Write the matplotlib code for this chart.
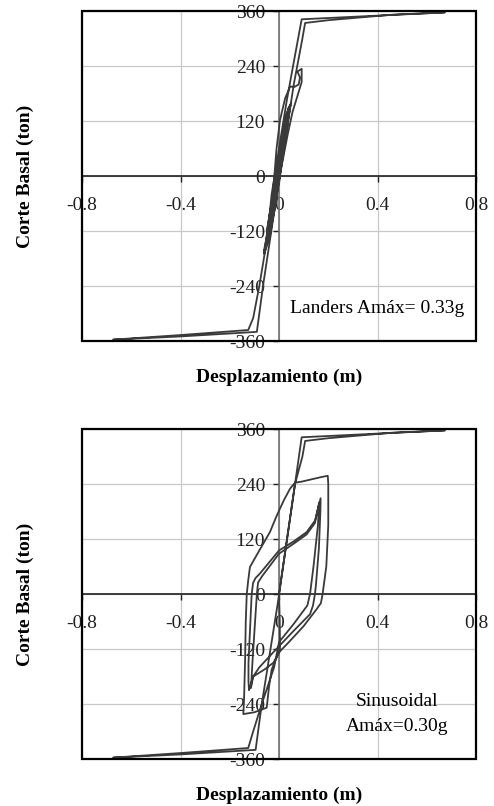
import numpy as np
import matplotlib.pyplot as plt
from matplotlib.patches import Rectangle

plt.rcParams['font.family'] = ['Liberation Serif', 'DejaVu Serif']

# Landers record: displacement (m) and base shear (ton)
landers_d = [0.000, 0.010, 0.020, 0.012, -0.005, -0.020, -0.012, 0.005, 0.028, 0.020,
             0.000, -0.025, -0.035, -0.025, -0.005, 0.015, 0.035, 0.025, 0.005, -0.020,
             -0.045, -0.035, -0.010, 0.020, 0.040, 0.030, 0.010, -0.025, -0.055, -0.040,
             -0.015, 0.015, 0.045, 0.035, 0.015, -0.015, -0.040, -0.060, -0.048, -0.025,
             0.000, 0.030, 0.050, 0.040, 0.020, -0.010, -0.030, -0.050, -0.040, -0.025,
             -0.010, 0.004, 0.025, 0.045, 0.065, 0.080, 0.085, 0.075, 0.092, 0.092,
             0.075, 0.055, 0.035, 0.010, -0.020, -0.050, -0.062, -0.045, -0.030, 0.000,
             0.030, 0.057, 0.092, 0.400, 0.674, 0.460, 0.200, 0.106, 0.095, 0.060,
             0.020, -0.020, -0.065, -0.090, -0.400, -0.674, -0.400, -0.125, -0.105, -0.080,
             -0.040, -0.010, 0.010, 0.000, -0.020, 0.000]
landers_v = [0, 40, 75, 60, 0, -55, -40, 20, 100, 85,
             20, -70, -105, -90, -20, 60, 130, 115, 50, -40,
             -130, -115, -40, 60, 150, 135, 70, -50, -155, -140,
             -60, 40, 150, 140, 90, -10, -90, -170, -150, -70,
             30, 120, 160, 150, 100, 0, -60, -120, -110, -40,
             60, 122, 170, 195, 195, 200, 215, 228, 234, 205,
             175, 140, 90, 20, -80, -150, -165, -120, -40, 60,
             160, 240, 342, 350, 357, 352, 340, 334, 300, 200,
             60, -80, -240, -340, -350, -357, -347, -336, -310, -240,
             -110, 0, 60, 20, -40, 0]

# Sinusoidal record
sinus_d = [0.000, 0.003, 0.004, -0.030, -0.040, -0.050, -0.100, -0.145, -0.142, -0.138,
           -0.135, -0.131, -0.125, -0.118, -0.080, -0.037, -0.010, 0.020, 0.045, 0.065,
           0.090, 0.130, 0.170, 0.198, 0.200, 0.200, 0.192, 0.177, 0.170, 0.150,
           0.100, 0.040, 0.004, -0.023, -0.060, -0.105, -0.122, -0.124, -0.124, -0.111,
           -0.105, -0.095, -0.077, 0.000, 0.060, 0.112, 0.146, 0.169, 0.168, 0.162,
           0.150, 0.146, 0.138, 0.126, 0.060, -0.023, -0.080, -0.105, -0.114, -0.112,
           -0.108, -0.090, -0.085, -0.070, 0.000, 0.060, 0.112, 0.146, 0.163, 0.158,
           0.140, 0.126, 0.115, 0.060, 0.000, -0.020, -0.070, -0.095, -0.400, -0.674,
           -0.400, -0.125, -0.105, -0.070, -0.005, 0.065, 0.092, 0.400, 0.674, 0.460,
           0.200, 0.106, 0.095, 0.065, 0.000]
sinus_v = [0, -60, -120, -165, -200, -248, -258, -262, -230, -150,
           -60, 0, 30, 59, 95, 135, 170, 205, 230, 243,
           245, 250, 255, 258, 240, 150, 60, 0, -20, -35,
           -70, -105, -125, -150, -165, -180, -210, -190, -150, 0,
           25, 35, 45, 95, 115, 135, 160, 209, 180, 100,
           20, 0, -25, -44, -80, -127, -160, -180, -205, -190,
           -150, 0, 25, 38, 88, 110, 130, 155, 200, 150,
           60, 0, -25, -65, -105, -160, -240, -340, -350, -357,
           -347, -336, -300, -240, -20, 240, 342, 350, 357, 352,
           340, 334, 300, 240, 0]

x_ticks = [-0.8, -0.4, 0, 0.4, 0.8]
x_labels = ['-0.8', '-0.4', '0', '0.4', '0.8']
y_ticks = [-360, -240, -120, 0, 120, 240, 360]
y_labels = [str(v) for v in y_ticks]

fig = plt.figure(figsize=(4.94, 8.06), dpi=100)
ax1 = fig.add_axes([0.166, 0.5769, 0.7976, 0.4094])
ax2 = fig.add_axes([0.166, 0.0583, 0.7976, 0.4094])


def style_axes(ax):
    ax.set_xlim(-0.8, 0.8)
    ax.set_ylim(-360, 360)
    ax.set_xticks(x_ticks)
    ax.set_xticklabels(x_labels)
    ax.set_yticks(y_ticks)
    ax.set_yticklabels(y_labels)
    ax.grid(True, color='#c8c8c8', lw=0.9)
    ax.set_axisbelow(True)
    ax.spines['left'].set_position(('data', 0))
    ax.spines['bottom'].set_position(('data', 0))
    ax.spines['left'].set_color('#707070')
    ax.spines['bottom'].set_color('#202020')
    ax.spines['left'].set_linewidth(1.2)
    ax.spines['bottom'].set_linewidth(1.2)
    ax.spines['top'].set_visible(False)
    ax.spines['right'].set_visible(False)
    ax.add_patch(Rectangle((0, 0), 1, 1, transform=ax.transAxes, fill=False,
                           ec='black', lw=1.6, clip_on=False, zorder=5))
    ax.tick_params(axis='x', direction='out', length=4, width=1, pad=11,
                   labelsize=14, colors='#202020')
    ax.tick_params(axis='y', direction='out', length=4, width=1, pad=6,
                   labelsize=14, colors='#202020')
    ax.text(0.5, -0.11, 'Desplazamiento (m)', transform=ax.transAxes,
            ha='center', va='center', fontsize=14, fontweight='bold')
    ax.text(-0.145, 0.5, 'Corte Basal (ton)', transform=ax.transAxes,
            ha='center', va='center', rotation=90, fontsize=14, fontweight='bold')


style_axes(ax1)
ax1.plot(landers_d, landers_v, color='#3a3a3a', lw=1.3, zorder=3)
ax1.text(0.40, -288, 'Landers Amáx= 0.33g', ha='center', va='center', fontsize=14)

style_axes(ax2)
ax2.plot(sinus_d, sinus_v, color='#3a3a3a', lw=1.3, zorder=3)
ax2.text(0.48, -262, 'Sinusoidal\nAmáx=0.30g', ha='center', va='center',
         fontsize=14, linespacing=1.6)

fig.savefig('out.png', dpi=100)
